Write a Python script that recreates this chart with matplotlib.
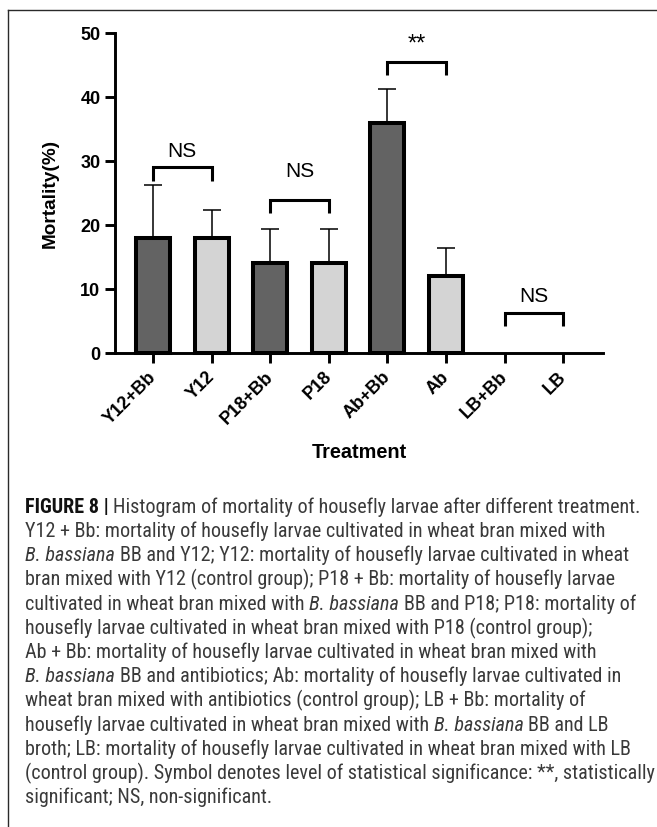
import matplotlib
matplotlib.use("Agg")
import matplotlib.pyplot as plt
from matplotlib.lines import Line2D
from matplotlib import font_manager

# ---- data -------------------------------------------------------------
treatments = ["Y12+Bb", "Y12", "P18+Bb", "P18", "Ab+Bb", "Ab", "LB+Bb", "LB"]
mortality = [18, 18, 14, 14, 36, 12, 0, 0]
sd_upper = [8.3, 4.4, 5.4, 5.4, 5.3, 4.4, 0, 0]
group = ["Bb", "Control", "Bb", "Control", "Bb", "Control", "Bb", "Control"]

# significance brackets between treatment pairs
bracket_left = [0, 2, 4, 6]
bracket_right = [1, 3, 5, 7]
bracket_top = [29.1, 23.9, 45.5, 6.25]
bracket_leg = [26.9, 21.9, 43.4, 4.2]
bracket_label = ["NS", "NS", "**", "NS"]
bracket_label_y = [30.6, 27.5, 47.3, 8.0]

y_ticks = [0, 10, 20, 30, 40, 50]

palette = {"Bb": "#636363", "Control": "#d4d4d4"}

# ---- figure -----------------------------------------------------------
W, H, DPI = 657, 827, 100
fig = plt.figure(figsize=(W / DPI, H / DPI), dpi=DPI)
fig.patch.set_facecolor("white")

axis_font = ["Liberation Sans", "Arial", "DejaVu Sans"]

ax = fig.add_axes([115 / W, 1 - 353 / H, (603 - 115) / W, (353 - 33) / H])
x = list(range(len(treatments)))

ax.bar(x, mortality, width=0.58,
       color=[palette[g] for g in group],
       edgecolor="black",
       linewidth=[2.9 if m > 0 else 0 for m in mortality],
       zorder=3, clip_on=False)

# one-sided error bars (upper only)
ex = [xi for xi, e in zip(x, sd_upper) if e > 0]
ey = [m for m, e in zip(mortality, sd_upper) if e > 0]
ee = [e for e in sd_upper if e > 0]
ax.errorbar(ex, ey, yerr=[[0] * len(ee), ee], fmt="none", ecolor="black",
            elinewidth=1.1, capsize=6.5, capthick=1.1, zorder=2)

for l, r, top, leg, lab, ly in zip(bracket_left, bracket_right, bracket_top,
                                   bracket_leg, bracket_label, bracket_label_y):
    ax.plot([l, l, r, r], [leg, top, top, leg], color="black", lw=2.2,
            solid_joinstyle="miter", solid_capstyle="butt", clip_on=False, zorder=4)
    fs = 17 if lab == "**" else 15
    ax.text((l + r) / 2, ly, lab, ha="center", va="baseline", fontsize=fs,
            family=axis_font, clip_on=False)

ax.set_xlim(-0.65, 7.68)
ax.set_ylim(0, 50)
ax.set_yticks(y_ticks)
ax.set_xticks(x)
ax.set_xticklabels(treatments, rotation=45, ha="right", va="center",
                   rotation_mode="anchor", fontsize=13, fontweight="bold",
                   family=axis_font)
ax.set_yticklabels([str(t) for t in y_ticks], fontsize=13, fontweight="bold",
                   family=axis_font)
ax.tick_params(axis="both", width=2.1, length=7.5, color="black")
ax.tick_params(axis="x", pad=8)
ax.tick_params(axis="y", pad=3)
for side in ["top", "right"]:
    ax.spines[side].set_visible(False)
for side in ["left", "bottom"]:
    ax.spines[side].set_linewidth(2.1)
    ax.spines[side].set_capstyle("projecting")

ax.set_ylabel("Mortality(%)", fontsize=13.7, fontweight="bold", family=axis_font)
ax.yaxis.set_label_coords((59 - 115) / (603 - 115), (353 - 193.5) / 320)
fig.text(359 / W, 1 - 452 / H, "Treatment", ha="center", va="center",
         fontsize=14.3, fontweight="bold", family=axis_font)

# panel frame (top and left rules)
fig.add_artist(Line2D([8 / W, 1], [1 - 10 / H, 1 - 10 / H], color="#2a2a2a", lw=1.0))
fig.add_artist(Line2D([8 / W, 8 / W], [1 - 10 / H, 0], color="#2a2a2a", lw=1.0))

# ---- caption ----------------------------------------------------------
caption = [
    [("FIGURE 8 |", "b"), ("Histogram of mortality of housefly larvae after different treatment.", "r")],
    [("Y12 + Bb: mortality of housefly larvae cultivated in wheat bran mixed with", "r")],
    [("B. bassiana", "i"), ("BB and Y12; Y12: mortality of housefly larvae cultivated in wheat", "r")],
    [("bran mixed with Y12 (control group); P18 + Bb: mortality of housefly larvae", "r")],
    [("cultivated in wheat bran mixed with", "r"), ("B. bassiana", "i"), ("BB and P18; P18: mortality of", "r")],
    [("housefly larvae cultivated in wheat bran mixed with P18 (control group);", "r")],
    [("Ab + Bb: mortality of housefly larvae cultivated in wheat bran mixed with", "r")],
    [("B. bassiana", "i"), ("BB and antibiotics; Ab: mortality of housefly larvae cultivated in", "r")],
    [("wheat bran mixed with antibiotics (control group); LB + Bb: mortality of", "r")],
    [("housefly larvae cultivated in wheat bran mixed with", "r"), ("B. bassiana", "i"), ("BB and LB", "r")],
    [("broth; LB: mortality of housefly larvae cultivated in wheat bran mixed with LB", "r")],
    [("(control group). Symbol denotes level of statistical significance: **, statistically", "r")],
    [("significant; NS, non-significant.", "r")],
]

# prefer a narrow sans for the caption block when one is installed
installed = font_manager.fontManager.ttflist
names = {f.name for f in installed}
cap_stretch = "normal"
if "Liberation Sans Narrow" in names:
    cap_family = ["Liberation Sans Narrow", "DejaVu Sans"]
elif "Roboto Condensed" in names:
    cap_family = ["Roboto Condensed", "DejaVu Sans"]
elif any(f.name == "Roboto" and str(f.stretch) == "condensed" for f in installed):
    cap_family = ["Roboto", "DejaVu Sans"]
    cap_stretch = "condensed"
elif any(f.name == "DejaVu Sans" and str(f.stretch) == "condensed" for f in installed):
    cap_family = ["DejaVu Sans"]
    cap_stretch = "condensed"
else:
    cap_family = ["Liberation Sans", "DejaVu Sans"]

fig.canvas.draw()
renderer = fig.canvas.get_renderer()


def seg_style(kind):
    if kind == "b":
        return dict(fontweight="bold", color="#111111")
    if kind == "i":
        return dict(fontstyle="italic", color="#3a3a3a")
    return dict(color="#3a3a3a")


def text_width(s, size, **kw):
    t = fig.text(0, 0, s, fontsize=size, family=cap_family,
                 fontstretch=cap_stretch, **kw)
    w = t.get_window_extent(renderer).width
    t.remove()
    return w


def draw_line(segs, x0, base, size, draw=True):
    space = text_width("n n", size) - text_width("nn", size)
    xpos = x0
    for k, (s, kind) in enumerate(segs):
        if k > 0:
            xpos += space
        st = seg_style(kind)
        if draw:
            fig.text(xpos / W, 1 - base / H, s, fontsize=size, family=cap_family,
                     fontstretch=cap_stretch, va="baseline", ha="left", **st)
        xpos += text_width(s, size, **st)
    return xpos - x0


ref_size = 11.0
w_ref = draw_line(caption[0], 0, 0, ref_size, draw=False)
cap_size = ref_size * 616.0 / w_ref

x0 = 25
base0, step = 513, 24.17
for i, segs in enumerate(caption):
    draw_line(segs, x0, base0 + i * step, cap_size)

fig.savefig("out.png", dpi=DPI, facecolor="white")
